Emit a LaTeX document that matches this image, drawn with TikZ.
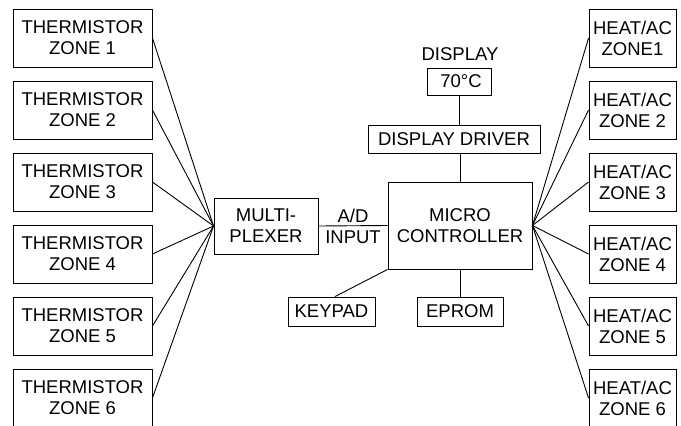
\documentclass[tikz,border=0pt]{standalone}
\usepackage{fontspec}
\setmainfont{Liberation Sans}
\begin{document}
\begin{tikzpicture}[x=1pt,y=-1pt,
  every node/.style={font=\fontsize{18.5}{21}\selectfont, inner sep=0pt, align=center},
  blk/.style={draw, line width=0.9pt, minimum width=#1},
  wire/.style={line width=0.9pt}]
\useasboundingbox (0,0) rectangle (681,426);

% thermistor inputs
\foreach \i/\y in {1/38,2/110,3/182,4/254,5/326,6/398}
  \node[blk=139pt, minimum height=58pt] (th\i) at (82.5,\y) {THERMISTOR\\ZONE \i};

% heating / cooling outputs
\node[blk=87pt, minimum height=58pt] (hv1) at (632.5,38) {HEAT/AC\\ZONE1};
\foreach \i/\y in {2/110,3/182,4/254,5/326,6/398}
  \node[blk=87pt, minimum height=58pt] (hv\i) at (632.5,\y) {HEAT/AC\\ZONE \i};

% central blocks
\node[blk=104pt, minimum height=56pt] (mux) at (266,226) {MULTI-\\PLEXER};
\node[blk=144pt, minimum height=87pt] (mcu) at (460,225.5) {MICRO\\CONTROLLER};
\node (adc) at (353,226.5) {A/D\\INPUT};
\node[blk=87pt, minimum height=29pt] (key) at (331.5,311.5) {KEYPAD};
\node[blk=86pt, minimum height=29pt] (rom) at (460,311.5) {EPROM};
\node[blk=172pt, minimum height=28pt] (drv) at (454,139) {DISPLAY DRIVER};
\node[blk=64pt, minimum height=27pt] (disp) at (459,81.5) {\hspace{4pt}70°C};
\node (displbl) at (460,54) {DISPLAY};

% connectors
\foreach \i in {1,...,6} {
  \draw[wire] (th\i.east) -- (mux.west);
  \draw[wire] (hv\i.west) -- (mcu.east);
}
\draw[wire] (mux.east) -- (mcu.west);
\draw[wire] (mcu.south) -- (rom.north);
\draw[wire] ([xshift=3.5pt]key.north) -- (mcu.south west);
\draw[wire] (drv.south -| mcu.north) -- (mcu.north);
\draw[wire] (disp.south) -- (disp.south |- drv.north);
\end{tikzpicture}
\end{document}
